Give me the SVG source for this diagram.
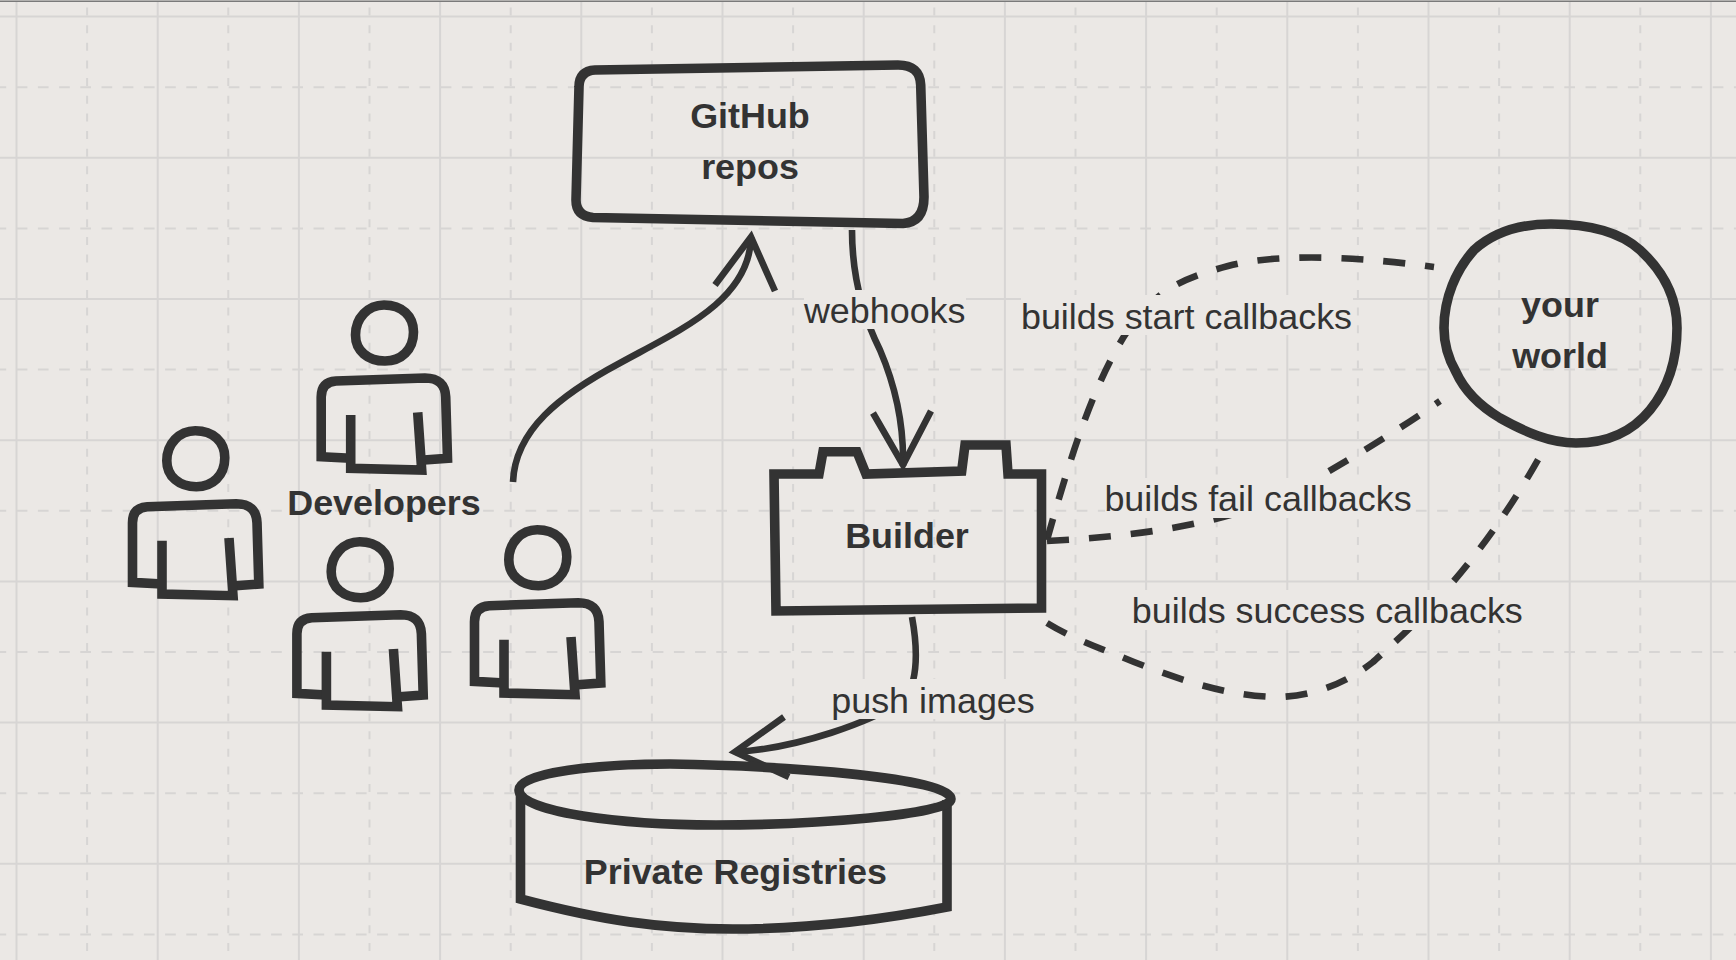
<svg xmlns="http://www.w3.org/2000/svg" width="1736" height="960" viewBox="0 0 1736 960">
<style>
text{font-family:"Liberation Sans",Arial,sans-serif;font-size:35.9px;fill:#333;text-anchor:middle}
.b{font-weight:700}
.s{fill:none;stroke:#333;stroke-width:9.6;stroke-miterlimit:10}
.c{fill:none;stroke:#333;stroke-width:6.6}
.d{stroke-dasharray:22 20}
.g{fill:none;stroke:#d7d5d4;stroke-width:2}
.gh{stroke-dasharray:10.7 10.5}
.gv{stroke-dasharray:8 9.65}
.l{fill:#ebe8e5}
</style>
<defs>
<g id="person">
<path class="s" d="M384 305C402 305 413.5 316 413.5 332C413.5 350 401 361 385 361C368 361 355.5 351 355.5 335C355.5 318 368 305 384 305Z"/>
<path class="s" d="M350.7 458.3L321.2 456.7L321.2 397Q321.2 382 336 381L425 378Q445 378 445.7 397L447.5 458.3L424 460"/>
<path class="s" d="M350.7 415L350.7 468.3L421.7 470L417.7 412.3"/>
</g>
</defs>
<rect width="1736" height="960" fill="#ebe8e5"/>
<g id="grid">
<path class="g gv" d="M87.1 7.5V960M228.3 7.5V960M369.5 7.5V960M510.7 7.5V960M651.9 7.5V960M793.1 7.5V960M934.3 7.5V960M1075.5 7.5V960M1216.7 7.5V960M1357.9 7.5V960M1499.1 7.5V960M1640.3 7.5V960"/>
<path class="g gh" d="M-4.5 87.2H1736M-4.5 228.4H1736M-4.5 369.6H1736M-4.5 510.8H1736M-4.5 652H1736M-4.5 793.2H1736M-4.5 934.4H1736"/>
<path class="g" d="M16.5 2V960M157.7 2V960M298.9 2V960M440.1 2V960M581.3 2V960M722.5 2V960M863.7 2V960M1004.9 2V960M1146.1 2V960M1287.3 2V960M1428.5 2V960M1569.7 2V960M1710.9 2V960"/>
<path class="g" d="M0 16.6H1736M0 157.8H1736M0 299H1736M0 440.2H1736M0 581.4H1736M0 722.6H1736M0 863.8H1736"/>
<rect width="1736" height="1.5" y="0.5" fill="#7a7a7a"/>
</g>
<g id="connectors">
<path class="c" d="M513 482C515 430 560 395 620 363C680 330 750 300 751 237"/>
<path class="c" d="M715 285L751 237L775 291"/>
<path class="c" d="M852 230C852 270 860 310 880 350C895 385 904 425 903 466"/>
<path class="c" d="M873 413L903 465L931 411"/>
<path class="c" d="M912 617C918 650 918 680 905 700C870 722 800 748 735 752"/>
<path class="c" d="M784 717L735 752L789 777"/>
<path class="c d" d="M1047 540C1075 440 1095 385 1123 338C1150 295 1175 280 1228 266C1270 255 1340 254 1434 267"/>
<path class="c d" d="M1047 541C1170 535 1250 515 1300 488C1340 465 1390 436 1440 401"/>
<path class="c d" d="M1047 623C1075 640 1100 648 1134 662C1180 680 1230 697 1280 697C1320 695 1350 680 1373 662C1400 637 1470 580 1539 458"/>
<rect class="l" x="804" y="290" width="162" height="39"/>
<text x="884.7" y="323.2">webhooks</text>
<rect class="l" x="1021" y="295" width="332" height="40"/>
<text x="1186.5" y="329">builds start callbacks</text>
<rect class="l" x="1105" y="478" width="307" height="40"/>
<text x="1258" y="511.2">builds fail callbacks</text>
<rect class="l" x="1132" y="590" width="390" height="40"/>
<text x="1327.3" y="622.9">builds success callbacks</text>
<rect class="l" x="832" y="679" width="203" height="40"/>
<text x="933" y="713.2">push images</text>
</g>
<g id="github">
<path class="s" d="M595 70L898 65Q920 65 920.7 85L924 197Q924 222 903 223.5L593 217.5Q576 216 576 200L579 87Q579 71 595 70Z"/>
<text class="b" x="750" y="127.6">GitHub</text>
<text class="b" x="750" y="179.2">repos</text>
</g>
<g id="dev-top"><use href="#person"/></g>
<g id="dev-left"><use href="#person" x="-188.7" y="125.7"/></g>
<g id="dev-bottom"><use href="#person" x="-24.3" y="236.7"/></g>
<g id="dev-right"><use href="#person" x="153.3" y="224.7"/></g>
<g id="developers-label"><text class="b" x="384" y="515">Developers</text></g>
<g id="builder">
<path class="s" d="M774 474L819 474L823 451.7L857 451.7L866 474L961.7 471L965 445L1006 445L1008 474L1041.5 474L1041.5 608L776 611Z"/>
<text class="b" x="907" y="548">Builder</text>
</g>
<g id="registries">
<path class="s" d="M520.5 793V899C600 920 660 929 733 929C810 929 880 920 947 907V800"/>
<path class="s" d="M519 790C519 772 600 764 670 764C790 766 951 778 951 799C951 815 810 825 716 825C620 825 519 812 519 790Z"/>
<text class="b" x="735.4" y="884">Private Registries</text>
</g>
<g id="your-world">
<path class="s" d="M1551 224C1590 224 1620 232 1640 250C1664 272 1677 298 1677 328C1677 362 1668 388 1650 410C1632 432 1606 443 1576 443C1550 443 1525 432 1500 418C1480 406 1465 392 1456 372C1448 358 1444 345 1444 328C1444 298 1456 270 1474 250C1494 232 1522 224 1551 224Z"/>
<text class="b" x="1560" y="317.2">your</text>
<text class="b" x="1560" y="368">world</text>
</g>
</svg>
